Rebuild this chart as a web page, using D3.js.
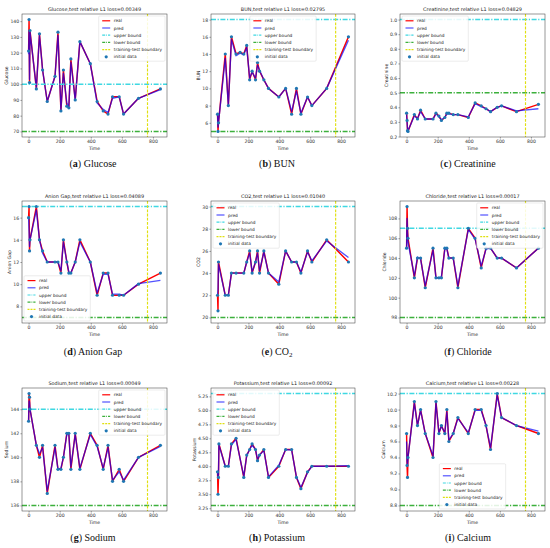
<!DOCTYPE html>
<html>
<head>
<meta charset="utf-8">
<script src="https://cdn.jsdelivr.net/npm/d3@7"></script>
<style>
  body { margin: 0; background: #fff; }
  svg { font-family: "DejaVu Sans", sans-serif; }
</style>
</head>
<body>
<div id="chart"></div>
<script>
// sample times shared by all labs (null = no reading at that time)
const times = [0, 3, 6, 9, 50, 70, 90, 120, 146, 170, 189, 208, 224, 246, 259, 272, 300, 330, 397, 441, 480, 511, 540, 583, 611, 707, 848];
const boundaryTime = 765;

const labNames = ["Glucose", "BUN", "Creatinine", "Anion Gap", "CO2", "Chloride", "Sodium", "Potassium", "Calcium"];
const captionLetters = ["a", "b", "c", "d", "e", "f", "g", "h", "i"];
const losses = ["0.00349", "0.02795", "0.04829", "0.04089", "0.01040", "0.00017", "0.00049", "0.00092", "0.00228"];
const upperBounds = [100, 18, 1.0, 17, 30, 107, 144, 5.3, 10.2];
const lowerBounds = [70, 5, 0.5, 7, 20, 98, 136, 3.3, 8.8];
const legendLabels = ["real", "pred", "upper bound", "lower bound", "training-test boundary", "initial data"];
const xTicks = [0, 200, 400, 600, 800];

const glucoseReal = [121, 141, 101, 134, 97, 132, 109, 89, null, 105, 133, 83, 109, 86, 85, 116, 90, 127, 113, 89, 83, 81, 92, 92, 81, 91, 97];
const glucosePred = [119, 134, 103, 133, 98, 131, 109, 89, null, 105, 131, 84, 107, 88, 86, 114, 90, 127, 113, 88, 84, 82, 91, 92, 81, 91, 96.5];
const bunReal = [7, 5, 6, null, 14, 8, 16, 14, 14.2, 14, 15, 11, 12, 11, 13, 12, 11, 10, 9, 10, 7, 10, 7, 9, 8, 10, 16];
const bunPred = [7, 5.5, 6, null, 13.5, 8, 15.7, 13.8, 14.1, 13.9, 14.8, 11.2, 11.9, 11.2, 12.7, 12.1, 11, 10, 9, 10, 7.3, 9.7, 7.1, 9, 8, 10, 15.6];
const creatinineReal = [0.36, 0.31, 0.24, 0.235, 0.35, 0.32, 0.38, 0.32, null, 0.32, 0.36, 0.34, 0.31, 0.33, 0.36, 0.36, 0.35, 0.35, 0.33, 0.43, 0.41, 0.39, 0.37, 0.40, 0.41, 0.37, 0.42];
const creatininePred = [0.35, 0.30, 0.25, 0.24, 0.34, 0.325, 0.37, 0.32, null, 0.32, 0.355, 0.335, 0.315, 0.33, 0.355, 0.355, 0.35, 0.35, 0.335, 0.425, 0.405, 0.39, 0.37, 0.40, 0.41, 0.375, 0.39];
const anionReal = [16, 17, 13, 14, 17, 14, 13, 12, null, 12, 12, 11, 14, 12, 11, 11, 12, 14, 12, 9, 11, 11, 9, 9, 9, 10, 11];
const anionPred = [16, 14.8, 13.4, 14, 16.7, 14, 12.8, 12, null, 12, 12, 11.2, 13.8, 12, 11.1, 11, 12, 13.8, 12, 9.2, 10.9, 10.9, 9.1, 9.1, 9, 10.05, 10.35];
const co2Real = [22, 20.6, 25, null, 22, 22, 24, 24, null, 24, 25, 26, 24, 25, 26, 24, 26, 24, 23, 26, 25, 25, 24, 26, 25, 27, 25];
const co2Pred = [22, 22.5, 24.8, null, 22, 22, 24, 24, null, 24, 25, 25.8, 24.1, 25, 25.8, 24.2, 25.9, 24, 23.2, 26, 25, 25, 24.1, 25.9, 25.1, 26.9, 25.4];
const chlorideReal = [105, 109.2, 107, 106, 102, 104, 104, 101, null, 105, 102, 102, 102, 105, 105, 104, 104, 101, 107, 106, 103, 105, 105, 104, 104, 103, 105];
const chloridePred = [105, 108, 106.6, 105.6, 102.2, 104.1, 103.9, 101.2, null, 104.8, 102, 102, 102.1, 104.9, 104.9, 104, 104, 101.2, 106.9, 105.9, 103.2, 104.9, 105, 104, 104, 103, 105];
const sodiumReal = [143, 145.3, 145, 144, 141, 140, 141, 137, null, 141, 139, 139, 140, 142, 142, 139, 142, 139, 142, 141, 139, 141, 138, 139, 138, 140, 141];
const sodiumPred = [143, 144.7, 144.6, 144, 141, 140.3, 140.8, 137.2, null, 140.8, 139, 139.1, 140, 141.9, 141.9, 139.2, 141.9, 139.1, 141.9, 140.9, 139.1, 140.8, 138.1, 138.8, 138.1, 140, 140.9];
const potassiumReal = [3.9, 3.5, 3.8, 4.4, 4.0, 4.0, 4.4, 4.5, null, 3.8, 4.2, 4.3, 4.4, 4.3, 4.1, 4.2, 4.3, 3.8, 4.0, 4.3, 4.3, 3.8, 3.6, 3.9, 4.0, 4.0, 4.0];
const potassiumPred = [3.9, 3.8, 3.85, 4.38, 4.0, 4.0, 4.38, 4.48, null, 3.82, 4.19, 4.3, 4.38, 4.3, 4.12, 4.2, 4.28, 3.81, 4.02, 4.3, 4.29, 3.81, 3.62, 3.89, 4.0, 4.0, 4.01];
const calciumReal = [9.7, 9.3, 9.15, 9.4, 10.1, 9.8, 10.0, 9.7, null, 9.4, 10.1, 9.7, 9.8, 9.7, 10.0, 9.6, 9.7, 9.9, 9.7, 10.0, 10.0, 9.8, 9.5, 10.2, 9.9, 9.8, 9.7];
const calciumPred = [9.6, 9.35, 9.3, 9.4, 10.08, 9.8, 9.99, 9.7, null, 9.42, 10.08, 9.71, 9.79, 9.71, 9.97, 9.62, 9.7, 9.89, 9.71, 9.99, 9.99, 9.8, 9.52, 10.18, 9.9, 9.8, 9.73];

const glucoseTicks = [70, 80, 90, 100, 110, 120, 130, 140];
const bunTicks = [6, 8, 10, 12, 14, 16, 18];
const creatinineTicks = [0.2, 0.3, 0.4, 0.5, 0.6, 0.7, 0.8, 0.9, 1.0];
const anionTicks = [8, 10, 12, 14, 16];
const co2Ticks = [20, 22, 24, 26, 28, 30];
const chlorideTicks = [98, 100, 102, 104, 106, 108];
const sodiumTicks = [136, 138, 140, 142, 144];
const potassiumTicks = [3.25, 3.5, 3.75, 4.0, 4.25, 4.5, 4.75, 5.0, 5.25];
const calciumTicks = [8.8, 9.0, 9.2, 9.4, 9.6, 9.8, 10.0, 10.2];

const realSeries = [glucoseReal, bunReal, creatinineReal, anionReal, co2Real, chlorideReal, sodiumReal, potassiumReal, calciumReal];
const predSeries = [glucosePred, bunPred, creatininePred, anionPred, co2Pred, chloridePred, sodiumPred, potassiumPred, calciumPred];
const yTickSets = [glucoseTicks, bunTicks, creatinineTicks, anionTicks, co2Ticks, chlorideTicks, sodiumTicks, potassiumTicks, calciumTicks];
const yFormats = ["d", "d", ".1f", "d", "d", "d", "d", ".2f", ".1f"];

// layout
const width = 550, height = 548;
const colLeft = [22, 211, 400], colRight = [167, 355, 545];
const rowTop = [14, 201, 388], rowBottom = [137, 323, 511];
const captionX = [93, 277, 468], captionY = [167, 355, 541];
const legendLoc = ["upper right", "upper center", "upper left", "lower left", "upper left", "upper right", "upper right", "upper left", "lower center"];

const colors = {
  real: "#ff0000",
  pred: "#0000ff",
  upper: "#3fd8e2",
  lower: "#3cb03c",
  boundary: "#e0e010",
  dots: "#1f77b4"
};

const svg = d3.select("#chart").append("svg")
  .attr("width", width)
  .attr("height", height);

function drawPanel(i) {
  const col = i % 3, row = Math.floor(i / 3);
  const left = colLeft[col], right = colRight[col];
  const top = rowTop[row], bottom = rowBottom[row];

  const pts = times.map((t, k) => ({t: t, real: realSeries[i][k], pred: predSeries[i][k]}))
    .filter(d => d.real != null);

  const vals = pts.map(d => d.real).concat(pts.map(d => d.pred), [upperBounds[i], lowerBounds[i]]);
  const lo = d3.min(vals), hi = d3.max(vals), m = (hi - lo) * 0.05;
  const tMin = d3.min(times), tMax = d3.max(times), tm = (tMax - tMin) * 0.05;

  const x = d3.scaleLinear().domain([tMin - tm, tMax + tm]).range([left, right]);
  const y = d3.scaleLinear().domain([lo - m, hi + m]).range([bottom, top]);

  const g = svg.append("g").attr("class", "panel");

  g.append("defs").append("clipPath").attr("id", "clip" + i)
    .append("rect")
    .attr("x", left).attr("y", top)
    .attr("width", right - left).attr("height", bottom - top);

  const plot = g.append("g").attr("clip-path", `url(#clip${i})`);

  const lineReal = d3.line().x(d => x(d.t)).y(d => y(d.real));
  const linePred = d3.line().x(d => x(d.t)).y(d => y(d.pred));

  plot.append("path")
    .attr("d", lineReal(pts))
    .attr("fill", "none")
    .attr("stroke", colors.real)
    .attr("stroke-width", 1.45)
    .attr("stroke-linejoin", "round");

  plot.append("path")
    .attr("d", linePred(pts))
    .attr("fill", "none")
    .attr("stroke", colors.pred)
    .attr("stroke-opacity", 0.68)
    .attr("stroke-width", 1.35)
    .attr("stroke-linejoin", "round");

  plot.append("line")
    .attr("x1", left).attr("x2", right)
    .attr("y1", y(upperBounds[i])).attr("y2", y(upperBounds[i]))
    .attr("stroke", colors.upper)
    .attr("stroke-width", 1.45)
    .attr("stroke-dasharray", "5,1.6,1.2,1.6");

  plot.append("line")
    .attr("x1", left).attr("x2", right)
    .attr("y1", y(lowerBounds[i])).attr("y2", y(lowerBounds[i]))
    .attr("stroke", colors.lower)
    .attr("stroke-width", 1.45)
    .attr("stroke-dasharray", "5,1.6,1.2,1.6");

  plot.append("line")
    .attr("x1", x(boundaryTime)).attr("x2", x(boundaryTime))
    .attr("y1", top).attr("y2", bottom)
    .attr("stroke", colors.boundary)
    .attr("stroke-width", 1.15)
    .attr("stroke-dasharray", "2.8,1.4");

  plot.selectAll("circle")
    .data(pts)
    .join("circle")
      .attr("cx", d => x(d.t))
      .attr("cy", d => y(d.real))
      .attr("r", 1.6)
      .attr("fill", colors.dots);

  // axes
  const xAxis = g.append("g")
    .attr("transform", `translate(0,${bottom})`)
    .call(d3.axisBottom(x).tickValues(xTicks).tickSize(1.6).tickPadding(1.2));
  const yAxis = g.append("g")
    .attr("transform", `translate(${left},0)`)
    .call(d3.axisLeft(y).tickValues(yTickSets[i]).tickFormat(d3.format(yFormats[i])).tickSize(1.6).tickPadding(1.2));

  [xAxis, yAxis].forEach(a => {
    a.attr("font-size", 4.6).attr("font-family", "DejaVu Sans");
    a.select(".domain").remove();
    a.selectAll(".tick line").attr("stroke", "#222").attr("stroke-width", 0.4);
    a.selectAll(".tick text").attr("fill", "#333");
  });

  g.append("rect")
    .attr("x", left).attr("y", top)
    .attr("width", right - left).attr("height", bottom - top)
    .attr("fill", "none")
    .attr("stroke", "#333")
    .attr("stroke-width", 0.5);

  g.append("text")
    .attr("x", (left + right) / 2)
    .attr("y", bottom + 13)
    .attr("text-anchor", "middle")
    .attr("font-size", 4.6)
    .attr("fill", "#222")
    .text("Time");

  const yb = yAxis.node().getBBox();
  g.append("text")
    .attr("transform", `translate(${left + yb.x - 2.2},${(top + bottom) / 2}) rotate(-90)`)
    .attr("text-anchor", "middle")
    .attr("font-size", 4.6)
    .attr("fill", "#222")
    .text(labNames[i]);

  g.append("text")
    .attr("x", (left + right) / 2)
    .attr("y", top - 3)
    .attr("text-anchor", "middle")
    .attr("font-size", 4.9)
    .attr("fill", "#222")
    .text(`${labNames[i]},test relative L1 loss=${losses[i]}`);

  drawLegend(g, legendLoc[i], left, right, top, bottom);

  // caption
  const cap = svg.append("text")
    .attr("x", captionX[col])
    .attr("y", captionY[row])
    .attr("text-anchor", "middle")
    .attr("font-family", "'Liberation Serif', serif")
    .attr("font-size", 10)
    .attr("fill", "#111");
  cap.append("tspan").text("(");
  cap.append("tspan").attr("font-weight", "bold").text(captionLetters[i]);
  cap.append("tspan").text(") ");
  labNames[i].split(/(\d)/).forEach(part => {
    if (part === "") return;
    if (/^\d$/.test(part)) {
      cap.append("tspan").attr("font-size", 7).attr("dy", 2).text(part);
    } else {
      cap.append("tspan").text(part);
    }
  });
}

function drawLegend(g, loc, left, right, top, bottom) {
  const fs = 4.3, rowH = 7.2, pad = 2, handle = 8;
  const lg = g.append("g");
  const box = lg.append("rect");
  const items = lg.selectAll("g.item")
    .data(legendLabels)
    .join("g")
      .attr("class", "item")
      .attr("transform", (_, k) => `translate(0,${4.8 + k * rowH})`);

  items.append("text")
    .attr("x", handle + 7)
    .attr("dy", "0.35em")
    .attr("font-size", fs)
    .attr("fill", "#222")
    .text(d => d);

  const styles = [
    {stroke: colors.real, dash: null, op: 1},
    {stroke: colors.pred, dash: null, op: 0.68},
    {stroke: colors.upper, dash: "3,1,0.8,1", op: 1},
    {stroke: colors.lower, dash: "3,1,0.8,1", op: 1},
    {stroke: colors.boundary, dash: "2,1", op: 1}
  ];
  items.each(function(_, k) {
    const it = d3.select(this);
    if (k < styles.length) {
      it.append("line")
        .attr("x1", 3.5).attr("x2", 3.5 + handle)
        .attr("stroke", styles[k].stroke)
        .attr("stroke-opacity", styles[k].op)
        .attr("stroke-width", 1.2)
        .attr("stroke-dasharray", styles[k].dash);
    } else {
      it.append("circle").attr("cx", 3.5 + handle / 2).attr("r", 1.6).attr("fill", colors.dots);
    }
  });

  const tw = d3.max(items.selectAll("text").nodes(), n => n.getComputedTextLength());
  const w = handle + 7 + tw + 3;
  const h = legendLabels.length * rowH + 2;
  box.attr("width", w).attr("height", h)
    .attr("rx", 1)
    .attr("fill", "white").attr("fill-opacity", 0.85)
    .attr("stroke", "#d0d0d0").attr("stroke-width", 0.4);

  let lx, ly;
  if (loc.includes("right")) lx = right - pad - w;
  else if (loc.includes("left")) lx = left + pad;
  else lx = (left + right) / 2 - w / 2;
  if (loc.includes("upper")) ly = top + pad;
  else ly = bottom - pad - h;
  lg.attr("transform", `translate(${lx},${ly})`);
}

labNames.forEach((_, i) => drawPanel(i));
</script>
</body>
</html>
